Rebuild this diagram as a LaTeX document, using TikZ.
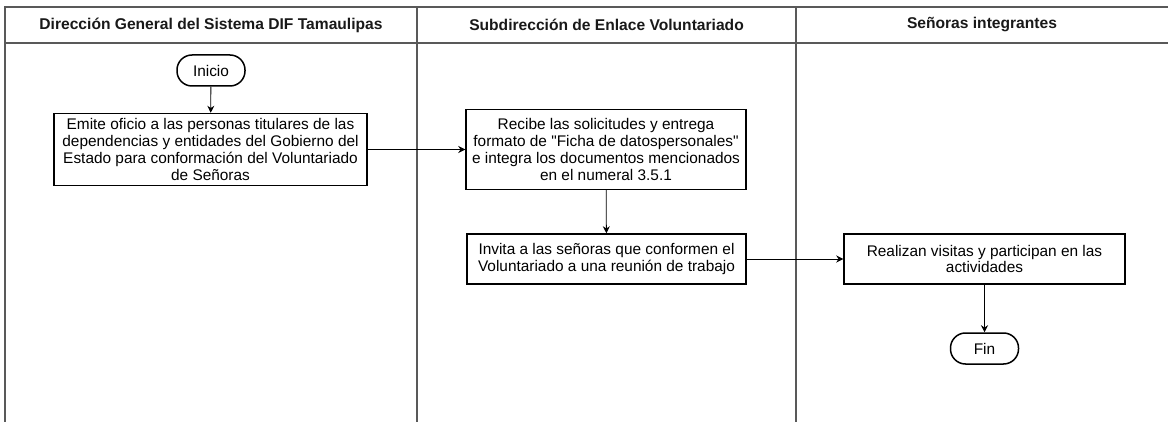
\documentclass[tikz,border=0pt]{standalone}
\usepackage{fontspec}
\setmainfont{Liberation Sans}
\usepackage{tikz}
\usetikzlibrary{arrows.meta, positioning}
\tikzset{
  carril/.style={
    draw=black!65,
    line width=1.2pt
  },
  encabezado/.style={
    font=\bfseries\fontsize{15.6}{18}\selectfont,
    color=black!90
  },
  proceso/.style={
    draw=black,
    line width=1.5pt,
    align=center,
    inner sep=1pt,
    font=\fontsize{15.4}{16.7}\selectfont
  },
  terminal/.style={
    draw=black,
    line width=1.5pt,
    rounded corners=15pt,
    minimum width=68pt,
    minimum height=31pt,
    font=\fontsize{15.4}{17}\selectfont
  },
  flecha/.style={
    -{Stealth[length=7pt, width=7pt]},
    line width=0.8pt,
    color=black
  }
}

\begin{document}
\begin{tikzpicture}[x=1pt, y=-1pt]
    \useasboundingbox (0,0) rectangle (1168,422);

    % carriles
    \draw[carril] (1168,7) -- (5,7) -- (5,422);
    \draw[carril] (5,43) -- (1168,43);
    \draw[carril] (417,7) -- (417,422);
    \draw[carril] (796,7) -- (796,422);

    % encabezados
    \node[encabezado] (h1) at (211,25) {Dirección General del Sistema DIF Tamaulipas};
    \node[encabezado] (h2) at (606.5,25) {Subdirección de Enlace Voluntariado};
    \node[encabezado] (h3) at (982,25) {Señoras integrantes};

    % pasos
    \node[terminal] (inicio) at (211,70.5) {Inicio};
    \node[proceso, minimum width=313pt, minimum height=72pt] (emite) at (210.5,149.5)
      {Emite oficio a las personas titulares de las\\dependencias y entidades del Gobierno del\\Estado para conformación del Voluntariado\\de Señoras};
    \node[proceso, minimum width=280pt, minimum height=80pt] (recibe) at (606,149.5)
      {Recibe las solicitudes y entrega\\formato de \textquotedbl Ficha de datospersonales\textquotedbl\\e integra los documentos mencionados\\en el numeral 3.5.1};
    \node[proceso, minimum width=279pt, minimum height=50pt] (invita) at (606.5,259)
      {Invita a las señoras que conformen el\\Voluntariado a una reunión de trabajo};
    \node[proceso, minimum width=281pt, minimum height=50pt] (realizan) at (984.5,259)
      {Realizan visitas y participan en las\\actividades};
    \node[terminal] (fin) at (984.5,348.5) {Fin};

    % flechas
    \draw[flecha] (inicio) -- (emite);
    \draw[flecha] (emite) -- (recibe);
    \draw[flecha] (recibe) -- (invita);
    \draw[flecha] (invita) -- (realizan);
    \draw[flecha] (realizan) -- (fin);

\end{tikzpicture}
\end{document}
